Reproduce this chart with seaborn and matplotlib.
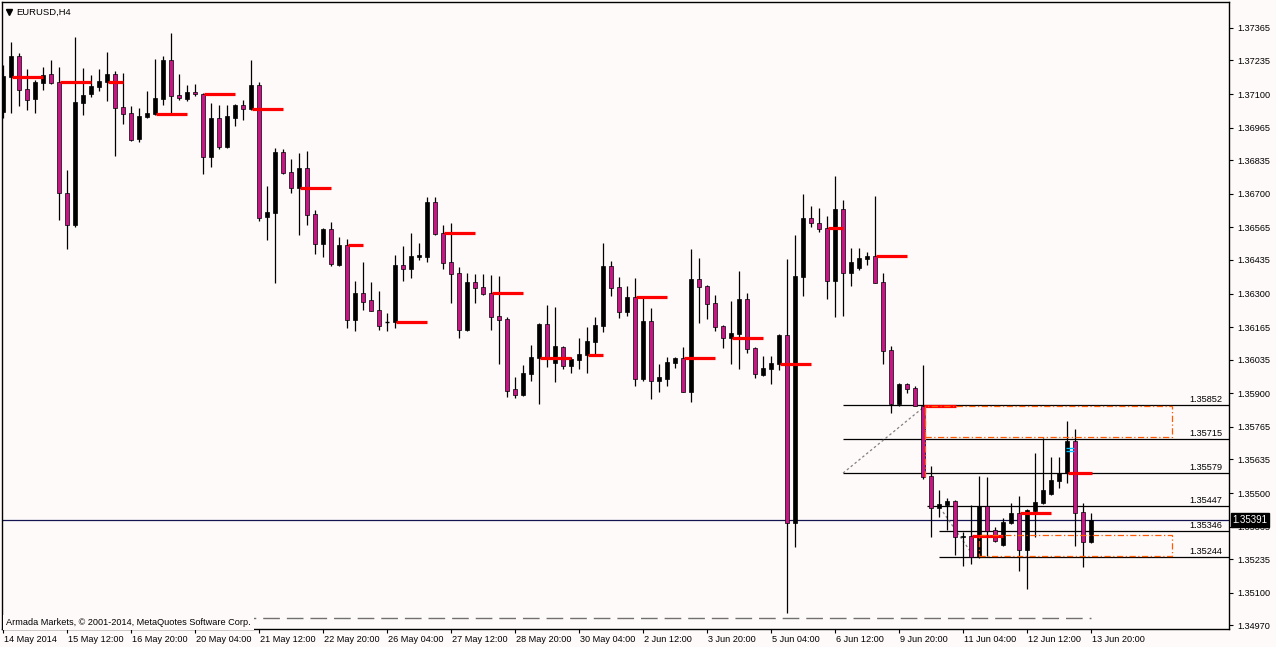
import matplotlib
matplotlib.use("Agg")
import matplotlib.pyplot as plt
import seaborn as sns
import numpy as np
from matplotlib.patches import Rectangle
from matplotlib.transforms import ScaledTranslation

# ---------------- data ----------------
opens = [1.37028, 1.37168, 1.37252, 1.37120, 1.37080, 1.37144, 1.37180, 1.37148, 1.36703, 1.36575,
         1.37064, 1.37100, 1.37128, 1.37148, 1.37180, 1.37048, 1.37024, 1.36920, 1.37008, 1.37020,
         1.37080, 1.37236, 1.37096, 1.37080, 1.37108, 1.37100, 1.36847, 1.37004, 1.36888, 1.37004,
         1.37056, 1.37040, 1.37136, 1.36607, 1.36623, 1.36867, 1.36787, 1.36723, 1.36803, 1.36619,
         1.36499, 1.36559, 1.36414, 1.36495, 1.36194, 1.36302, 1.36274, 1.36234, 1.36186, 1.36186,
         1.36414, 1.36398, 1.36446, 1.36446, 1.36667, 1.36543, 1.36426, 1.36382, 1.36154, 1.36346,
         1.36326, 1.36302, 1.36210, 1.36198, 1.35917, 1.35893, 1.35977, 1.36041, 1.36178, 1.36021,
         1.36086, 1.36009, 1.36033, 1.36053, 1.36106, 1.36170, 1.36410, 1.36326, 1.36226, 1.36286,
         1.35957, 1.36190, 1.35949, 1.35957, 1.36021, 1.36041, 1.35905, 1.36358, 1.36330, 1.36262,
         1.36170, 1.36122, 1.36138, 1.36278, 1.36082, 1.35973, 1.35997, 1.36017, 1.36134, 1.35380,
         1.36366, 1.36603, 1.36583, 1.36563, 1.36350, 1.36639, 1.36382, 1.36402, 1.36438, 1.36450,
         1.36346, 1.36073, 1.35857, 1.35937, 1.35921, 1.35849, 1.35568, 1.35440, 1.35452, 1.35468,
         1.35324, 1.35328, 1.35243, 1.35448, 1.35352, 1.35292, 1.35380, 1.35420, 1.35271, 1.35428,
         1.35460, 1.35496, 1.35548, 1.35580, 1.35709, 1.35424, 1.35304]
highs = [1.37216, 1.37309, 1.37265, 1.37200, 1.37156, 1.37208, 1.37236, 1.37208, 1.36795, 1.37329,
         1.37204, 1.37176, 1.37200, 1.37269, 1.37192, 1.37184, 1.37052, 1.37044, 1.37112, 1.37240,
         1.37252, 1.37345, 1.37180, 1.37136, 1.37140, 1.37104, 1.37064, 1.37056, 1.37056, 1.37060,
         1.37076, 1.37236, 1.37148, 1.36731, 1.36884, 1.36880, 1.36839, 1.36863, 1.36871, 1.36635,
         1.36563, 1.36587, 1.36527, 1.36519, 1.36350, 1.36426, 1.36346, 1.36310, 1.36222, 1.36454,
         1.36491, 1.36543, 1.36503, 1.36687, 1.36687, 1.36575, 1.36583, 1.36406, 1.36382, 1.36378,
         1.36378, 1.36374, 1.36370, 1.36206, 1.35965, 1.36013, 1.36094, 1.36182, 1.36254, 1.36246,
         1.36090, 1.36045, 1.36122, 1.36166, 1.36206, 1.36503, 1.36430, 1.36366, 1.36330, 1.36362,
         1.36282, 1.36242, 1.36017, 1.36045, 1.36045, 1.36086, 1.36479, 1.36442, 1.36334, 1.36294,
         1.36174, 1.36270, 1.36390, 1.36302, 1.36086, 1.36049, 1.36049, 1.36138, 1.36438, 1.36535,
         1.36699, 1.36651, 1.36643, 1.36611, 1.36771, 1.36675, 1.36483, 1.36483, 1.36466, 1.36691,
         1.36382, 1.36090, 1.35941, 1.35941, 1.35929, 1.36013, 1.35608, 1.35512, 1.35480, 1.35472,
         1.35344, 1.35452, 1.35568, 1.35564, 1.35364, 1.35400, 1.35460, 1.35488, 1.35436, 1.35660,
         1.35721, 1.35644, 1.35644, 1.35789, 1.35757, 1.35460, 1.35420]
lows = [1.37004, 1.37024, 1.37052, 1.37036, 1.37024, 1.37116, 1.37140, 1.36595, 1.36479, 1.36567,
        1.37016, 1.37088, 1.37112, 1.37072, 1.36851, 1.36980, 1.36912, 1.36908, 1.37004, 1.37016,
        1.37056, 1.37024, 1.37076, 1.37072, 1.37092, 1.36779, 1.36807, 1.36880, 1.36884, 1.36972,
        1.36996, 1.37036, 1.36591, 1.36515, 1.36342, 1.36779, 1.36703, 1.36535, 1.36575, 1.36458,
        1.36446, 1.36410, 1.36410, 1.36162, 1.36150, 1.36234, 1.36230, 1.36154, 1.36150, 1.36162,
        1.36350, 1.36362, 1.36434, 1.36426, 1.36535, 1.36398, 1.36262, 1.36122, 1.36150, 1.36262,
        1.36294, 1.36154, 1.36017, 1.35885, 1.35881, 1.35889, 1.35949, 1.35857, 1.36005, 1.35945,
        1.35997, 1.35981, 1.35997, 1.35981, 1.36049, 1.36146, 1.36290, 1.36202, 1.36210, 1.35929,
        1.35949, 1.35877, 1.35905, 1.35929, 1.36001, 1.35905, 1.35865, 1.36182, 1.36198, 1.36150,
        1.36082, 1.36017, 1.35997, 1.36061, 1.35961, 1.35969, 1.35937, 1.35993, 1.35019, 1.35284,
        1.36290, 1.36567, 1.36547, 1.36278, 1.36206, 1.36210, 1.36330, 1.36394, 1.36414, 1.36342,
        1.36017, 1.35821, 1.35849, 1.35901, 1.35849, 1.35556, 1.35324, 1.35404, 1.35352, 1.35251,
        1.35207, 1.35215, 1.35239, 1.35247, 1.35304, 1.35288, 1.35376, 1.35187, 1.35115, 1.35324,
        1.35456, 1.35492, 1.35520, 1.35540, 1.35288, 1.35203, 1.35300]
closes = [1.37172, 1.37252, 1.37116, 1.37076, 1.37148, 1.37176, 1.37144, 1.36703, 1.36575, 1.37068,
          1.37096, 1.37132, 1.37152, 1.37180, 1.37044, 1.37020, 1.36916, 1.37012, 1.37024, 1.37084,
          1.37236, 1.37092, 1.37084, 1.37108, 1.37100, 1.36847, 1.37004, 1.36888, 1.37012, 1.37056,
          1.37040, 1.37136, 1.36603, 1.36627, 1.36867, 1.36783, 1.36723, 1.36803, 1.36615, 1.36499,
          1.36559, 1.36418, 1.36495, 1.36194, 1.36302, 1.36266, 1.36230, 1.36170, 1.36186, 1.36414,
          1.36398, 1.36450, 1.36454, 1.36667, 1.36539, 1.36422, 1.36378, 1.36154, 1.36346, 1.36322,
          1.36298, 1.36206, 1.36194, 1.35909, 1.35893, 1.35981, 1.36045, 1.36178, 1.36041, 1.36090,
          1.36009, 1.36037, 1.36057, 1.36110, 1.36174, 1.36410, 1.36322, 1.36226, 1.36286, 1.35957,
          1.36190, 1.35949, 1.35965, 1.36025, 1.36041, 1.35905, 1.36358, 1.36326, 1.36258, 1.36166,
          1.36122, 1.36142, 1.36278, 1.36078, 1.35977, 1.36001, 1.36021, 1.36134, 1.35380, 1.36370,
          1.36603, 1.36583, 1.36559, 1.36350, 1.36639, 1.36382, 1.36426, 1.36442, 1.36450, 1.36342,
          1.36069, 1.35857, 1.35937, 1.35917, 1.35849, 1.35564, 1.35440, 1.35456, 1.35468, 1.35324,
          1.35328, 1.35243, 1.35448, 1.35348, 1.35308, 1.35384, 1.35420, 1.35271, 1.35432, 1.35464,
          1.35512, 1.35552, 1.35580, 1.35709, 1.35420, 1.35304, 1.35391]

time_labels = ["14 May 2014", "15 May 12:00", "16 May 20:00", "20 May 04:00", "21 May 12:00",
               "22 May 20:00", "26 May 04:00", "27 May 12:00", "28 May 20:00", "30 May 04:00",
               "2 Jun 12:00", "3 Jun 20:00", "5 Jun 04:00", "6 Jun 12:00", "9 Jun 20:00",
               "11 Jun 04:00", "12 Jun 12:00", "13 Jun 20:00"]
price_ticks = [1.37365, 1.37235, 1.37100, 1.36965, 1.36835, 1.36700, 1.36565, 1.36435, 1.36300,
               1.36165, 1.36035, 1.35900, 1.35765, 1.35635, 1.35500, 1.35365, 1.35235, 1.35100, 1.34970]

# daily session-open lines (bar index of 08:00 bar, length in bars)
session_bars = list(range(1, 137, 6))
session_len = [3.9, 3.8, 1.9, 3.9, 3.9, 3.9, 3.9, 1.9, 3.9, 3.9, 3.9, 3.9,
               1.9, 3.9, 3.9, 3.9, 3.9, 1.9, 3.9, 4.0, 3.9, 3.9, 3.0]

fib_levels = [1.35852, 1.35715, 1.35579, 1.35447, 1.35346, 1.35244]
fib_start = [105, 105, 105, 115.5, 117, 117]

zone_x0 = [115.25, 122.0]
zone_x1 = [146.1, 146.1]
zone_lo = [1.35725, 1.35247]
zone_hi = [1.35849, 1.35332]

trend_x = [[105, 115.25], [117.5, 121.25]]
trend_y = [[1.35580, 1.35849], [1.35424, 1.35251]]

round_level = 1.35000
last_price = 1.35391
cyan_marks = [1.35681, 1.35669]

# ---------------- style ----------------
BG = "#FFFAFA"
BEAR = "#C71585"
FS = 6.6
sns.set_theme(style="white")
plt.rcParams["font.family"] = ["Liberation Sans", "DejaVu Sans"]

fig = plt.figure(figsize=(12.76, 6.47), dpi=100, facecolor=BG)
W, H = 1276, 647
ax = fig.add_axes([2 / W, (H - 629) / H, 1227 / W, 627 / H])
ax.set_facecolor(BG)

n = len(opens)
xs = np.arange(n)
o = np.array(opens); h = np.array(highs); l = np.array(lows); c = np.array(closes)
hi = np.maximum(h, np.maximum(o, c))
lo = np.minimum(l, np.minimum(o, c))

# wicks
ax.vlines(xs, lo, hi, color="black", lw=0.9, zorder=3)
# bodies
bw = 0.62
for i in range(n):
    if abs(c[i] - o[i]) < 1e-6:
        ax.hlines(o[i], i - bw / 2, i + bw / 2, color="black", lw=1.0, zorder=4)
        continue
    bull = c[i] > o[i]
    ax.bar(i, abs(c[i] - o[i]), bottom=min(o[i], c[i]), width=bw,
           color="black" if bull else BEAR, edgecolor="black", linewidth=0.5, zorder=4)

# session lines (red)
for k, b in enumerate(session_bars):
    ax.hlines(opens[b], b + 0.15, b + 0.15 + session_len[k], color="#FF0000", lw=2.3, zorder=5)

# round number dashed line
ax.hlines(round_level, 0, n - 1, color="#707070", lw=1.0, linestyles=(0, (12, 5)), zorder=2)

# fib lines and labels
xmax = 153.25
for lev, xs0 in zip(fib_levels, fib_start):
    ax.hlines(lev, xs0, xmax, color="black", lw=0.9, zorder=2)
    ax.text(152.4, lev + 0.00004, f"{lev:.5f}", ha="right", va="bottom", fontsize=FS,
            color="black", zorder=6)

# orange zones
for x0, x1, y0, y1 in zip(zone_x0, zone_x1, zone_lo, zone_hi):
    ax.add_patch(Rectangle((x0, y0), x1 - x0, y1 - y0, fill=False, edgecolor="#FF5A00",
                           lw=0.9, linestyle=(0, (5, 2, 1, 2)), zorder=6))
ax.vlines(zone_x0[0], closes[115], zone_hi[0], color="#FF5A00", lw=0.9,
          linestyles=(0, (5, 2, 1, 2)), zorder=6)

# dotted trend lines
for tx, ty in zip(trend_x, trend_y):
    ax.plot(tx, ty, color="#808080", lw=0.9, linestyle=(0, (2, 2)), zorder=2)

# cyan marks
ax.hlines(cyan_marks, 133 - 0.1, 133 + 0.9, color="#00BFFF", lw=1.0, zorder=7)

# last price line
ax.axhline(last_price, color="#141450", lw=0.9, zorder=1)

# axes limits
ax.set_xlim(-0.125, xmax)
ax.set_ylim(1.34955, 1.37469)

# spines
for s in ax.spines.values():
    s.set_color("black")
    s.set_linewidth(1.0)

# y ticks on right
ax.yaxis.tick_right()
ax.set_yticks(price_ticks)
ax.set_yticklabels([f"{p:.5f}" for p in price_ticks])
ax.tick_params(axis="y", which="both", right=True, left=False, length=3, width=0.8,
               pad=3, labelsize=FS, colors="black", direction="out")

# x ticks
ax.set_xticks(np.arange(0, n, 8))
ax.set_xticklabels(time_labels)
ax.tick_params(axis="x", which="both", bottom=True, length=3, width=0.8, pad=1.5,
               labelsize=FS, colors="black", direction="out")
offset = ScaledTranslation(1 / 100, 0, fig.dpi_scale_trans)
for lab in ax.get_xticklabels():
    lab.set_ha("left")
    lab.set_transform(lab.get_transform() + offset)

ax.grid(False)

# last price label
ax.annotate(f"{last_price:.5f}", xy=(1.0, last_price), xycoords=("axes fraction", "data"),
            xytext=(2.5, 0), textcoords="offset points", ha="left", va="center", fontsize=FS + 0.4,
            color="white", annotation_clip=False,
            bbox=dict(boxstyle="square,pad=0.2", fc="black", ec="black"), zorder=10)

# title
ax.plot([0.0055], [0.984], marker="v", color="black", markersize=4.5,
        transform=ax.transAxes, clip_on=False)
ax.text(0.0115, 0.984, "EURUSD,H4", transform=ax.transAxes, fontsize=FS + 0.2,
        ha="left", va="center", color="black")

# copyright
ax.annotate("Armada Markets, \u00a9 2001-2014, MetaQuotes Software Corp.", xy=(0, 0),
            xycoords="axes fraction", xytext=(3, 1.5), textcoords="offset points",
            fontsize=FS, ha="left", va="bottom", color="black",
            bbox=dict(boxstyle="square,pad=0.35", fc=BG, ec="none"), zorder=8)

fig.savefig("out.png", dpi=100, facecolor=BG)
